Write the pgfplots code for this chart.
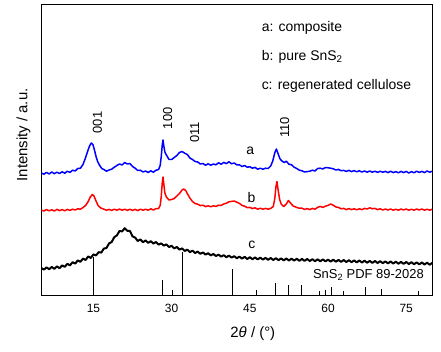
\documentclass[border=0pt]{standalone}
\usepackage{pgfplots}
\pgfplotsset{compat=1.18}
\usepackage{fontspec}
\setmainfont{Liberation Sans}
\begin{document}
\begin{tikzpicture}
\begin{axis}[name=ax,
  scale only axis, width=391bp, height=290.5bp,
  xmin=5, xmax=80, ymin=0, ymax=290.5,
  xtick={15,30,45,60,75}, ytick=\empty,
  major tick length=0pt,
  axis line style={line width=0.8bp},
  clip=true,
  tick label style={font=\fontsize{12}{14}\selectfont},
  xticklabel style={inner sep=0pt, yshift=-9.3bp, anchor=north},
  /pgf/number format/assume math mode=true,
  xlabel={2\textit{θ} / (°)},
  xlabel style={font=\fontsize{15}{17}\selectfont, inner sep=0pt, at={(axis description cs:0.541,0)}, anchor=north, yshift=-31.5bp},
  ylabel={Intensity / a.u.},
  ylabel style={font=\fontsize{15}{17}\selectfont, inner sep=0pt, at={(axis description cs:-0.027,0.551)}, anchor=south},
  every axis plot/.append style={line join=round},
]
% a: composite
\addplot[blue, line width=1.5pt] table {
5 122.0
5.5 120.8
6 122.6
6.5 121.0
7 123.0
7.5 121.3
8 122.8
8.5 121.5
9 123.2
9.5 121.8
10 123.8
10.5 122.6
11 124.8
11.5 124.0
12 126.5
12.5 126.8
13 130.5
13.5 137.5
14 145.5
14.3 149.5
14.6 152.0
14.9 150.5
15.2 145.0
15.5 138.5
15.8 133.5
16.2 129.5
16.6 126.5
17 125.5
17.5 123.8
18 125.0
18.5 125.8
19 127.8
19.5 129.5
20 131.0
20.5 130.0
21 132.5
21.5 131.0
22 131.5
22.5 128.5
23 126.8
23.5 124.5
24 124.8
24.5 123.0
25 124.0
25.5 122.5
26 124.2
26.5 122.8
27 124.8
27.5 125.5
27.8 129.5
28.0 138
28.2 150
28.35 155
28.5 149
28.7 143
29 140
29.5 135.5
30 135.5
30.5 137.5
31 139.5
31.5 142.5
32 143.5
32.5 141.8
33 140.5
33.5 137.0
34 135.5
34.5 133.5
35 133.0
35.5 131.0
36 131.5
36.5 129.8
37 131.2
37.5 129.8
38 131.0
38.5 130.2
39 132.2
39.5 130.8
40 132.6
40.5 131.4
41 133.2
41.5 131.2
42 132.0
42.5 130.2
43 130.2
43.5 128.5
44 129.5
44.5 127.8
45 128.2
45.5 126.8
46 127.6
46.5 125.8
47 126.8
47.5 125.8
48 126.8
48.5 126.5
49 129.0
49.4 134.0
49.8 142.5
50.1 146.0
50.4 141.5
50.8 136.0
51.2 133.8
51.6 132.5
52 133.8
52.5 130.8
53 130.2
53.5 127.8
54 126.5
54.5 124.8
55 124.2
55.5 123.0
56 123.4
56.5 123.8
57 124.8
57.5 124.0
58 126.5
58.5 126.8
59 126.0
59.5 127.5
60 127.2
60.5 126.8
61 126.2
61.5 125.0
62 125.6
62.5 124.3
63 124.6
63.5 123.6
64 124.6
64.5 123.4
65 124.4
65.5 123.2
66 124.2
66.5 123.0
67 124.0
67.5 122.8
68 124.0
68.5 122.8
69 123.8
69.5 122.6
70 123.8
70.5 122.8
71 123.6
71.5 122.4
72 123.8
72.5 122.4
73 123.4
73.5 122.2
74 123.6
74.5 122.4
75 123.6
75.5 122.0
76 123.4
76.5 122.2
77 123.8
77.5 122.6
78 123.6
78.5 122.4
79 124.0
79.5 122.8
80 123.8
};
% b: pure SnS2
\addplot[red, line width=1.5pt] table {
5 85.0
5.5 84.0
6 85.4
6.5 84.2
7 85.2
7.5 84.0
8 85.6
8.5 84.4
9 85.4
9.5 84.2
10 85.6
10.5 84.6
11 85.8
11.5 85.0
12 86.2
12.5 85.8
13 87.5
13.5 89.5
14 93.5
14.4 98.0
14.8 100.5
15.1 99.0
15.5 94.0
15.9 89.5
16.4 87.0
17 85.8
17.5 84.8
18 85.6
18.5 84.6
19 85.8
19.5 84.8
20 86.0
20.5 84.8
21 85.8
21.5 84.6
22 85.8
22.5 84.6
23 85.6
23.5 84.4
24 85.8
24.5 84.8
25 85.8
25.5 84.8
26 86.2
26.5 85.0
27 86.4
27.5 86.5
27.8 89.5
28.0 98
28.2 112
28.35 118
28.5 111
28.7 102
29 98
29.5 95.0
30 95.5
30.5 96.5
31 99.0
31.5 101.5
32 105.0
32.3 106.0
32.7 104.5
33 101.5
33.5 97.0
34 93.5
34.5 91.5
35 90.8
35.5 89.4
36 89.8
36.5 88.4
37 89.2
37.5 88.2
38 89.2
38.5 88.6
39 89.8
39.5 89.6
40 91.0
40.5 91.8
41 93.2
41.5 93.6
42 94.0
42.5 92.8
43 91.6
43.5 89.6
44 88.8
44.5 87.4
45 87.6
45.5 86.4
46 87.2
46.5 85.8
47 86.8
47.5 85.8
48 86.6
48.5 85.8
49 86.6
49.5 88.5
49.8 97
50.0 108
50.2 113.5
50.4 106
50.7 96
51.0 91.0
51.5 88.5
52 91.0
52.4 94.5
52.8 92.0
53.3 89.0
53.8 88.0
54.3 87.0
55 86.8
55.5 85.6
56 86.4
56.5 85.4
57 86.6
57.5 85.8
58 87.6
58.5 88.6
59 87.6
59.5 88.8
60 89.6
60.5 91.0
61 89.8
61.5 88.0
62 87.6
62.5 86.2
63 86.6
63.5 85.4
64 86.4
64.5 85.4
65 86.2
65.5 85.2
66 86.2
66.5 85.4
67 86.6
67.5 86.0
68 87.2
68.5 86.2
69 86.6
69.5 85.4
70 86.2
70.5 85.0
71 86.0
71.5 85.0
72 86.0
72.5 84.8
73 85.8
73.5 84.8
74 86.0
74.5 85.0
75 86.0
75.5 84.8
76 85.8
76.5 84.8
77 86.0
77.5 85.0
78 86.0
78.5 84.8
79 85.8
79.5 84.8
80 85.8
};
% c: regenerated cellulose
\addplot[black, line width=2pt] table {
5 27.0
5.5 25.4
6 27.6
6.5 25.8
7 28.0
7.5 26.2
8 28.6
8.5 26.8
9 29.6
9.5 28.2
10 31.2
10.5 29.6
11 32.8
11.5 31.4
12 34.6
12.5 33.2
13 36.4
13.5 35.0
14 38.6
14.5 37.0
15 40.6
15.5 39.6
16 42.8
16.5 42.4
17 46.4
17.5 47.0
18 51.6
18.5 53.0
19 57.8
19.5 59.6
20 64.0
20.5 63.6
21 66.8
21.5 64.2
22 64.0
22.5 58.6
23 57.4
23.5 54.0
24 55.6
24.5 52.8
25 54.6
25.5 52.2
26 53.8
26.5 51.4
27 53.0
27.5 50.4
28 51.6
28.5 49.4
29 50.6
29.5 48.0
30 49.2
30.5 46.6
31 48.0
31.5 45.4
32 46.6
32.5 44.0
33 45.4
33.5 42.8
34 44.4
34.5 42.0
35 43.4
35.5 41.2
36 42.6
36.5 40.4
37 41.8
37.5 39.6
38 41.0
38.5 39.0
39 40.4
39.5 38.4
40 39.8
40.5 37.8
41 39.4
41.5 37.4
42 38.8
42.5 36.8
43 38.4
43.5 36.4
44 38.2
44.5 36.0
45 37.8
45.5 35.8
46 37.6
46.5 35.6
47 37.4
47.5 35.4
48 37.2
48.5 35.2
49 37.0
49.5 35.0
50 36.8
50.5 34.8
51 36.6
51.5 34.6
52 36.5
52.5 34.5
53 36.4
53.5 34.4
54 36.2
54.5 34.2
55 36.1
55.5 34.1
56 36.0
56.5 34.0
57 35.8
57.5 33.8
58 35.7
58.5 33.7
59 35.6
59.5 33.6
60 35.4
60.5 33.4
61 35.3
61.5 33.3
62 35.1
62.5 33.1
63 35.0
63.5 33.0
64 34.8
64.5 32.8
65 34.6
65.5 32.6
66 34.5
66.5 32.5
67 34.3
67.5 32.3
68 34.1
68.5 32.1
69 34.0
69.5 32.0
70 33.8
70.5 31.8
71 33.6
71.5 31.6
72 33.5
72.5 31.5
73 33.3
73.5 31.3
74 33.1
74.5 31.1
75 33.0
75.5 31.0
76 32.8
76.5 30.8
77 32.6
77.5 30.6
78 32.5
78.5 30.5
79 32.3
79.5 30.3
80 32.1
};
% SnS2 PDF 89-2028 reference lines
\addplot[black, line width=0.6pt, ycomb, mark=none] table {
15.0 38.3
28.3 15.0
30.2 5.0
32.1 43.0
41.7 25.7
46.3 5.0
49.9 11.7
52.4 10.3
54.9 10.3
58.3 4.3
59.4 5.0
60.7 8.3
62.9 4.3
67.1 7.7
70.3 6.0
77.4 4.3
};
% annotations
\node[anchor=west, inner sep=0pt, font=\fontsize{14}{16}\selectfont] at (axis cs:47.25,267.3) {a: composite};
\node[anchor=west, inner sep=0pt, font=\fontsize{14}{16}\selectfont] at (axis cs:47.25,238) {b: pure SnS\textsubscript{2}};
\node[anchor=west, inner sep=0pt, font=\fontsize{14}{16}\selectfont] at (axis cs:47.25,209) {c: regenerated cellulose};
\node[inner sep=0pt, font=\fontsize{14}{16}\selectfont] at (axis cs:45.1,144.3) {a};
\node[inner sep=0pt, font=\fontsize{14}{16}\selectfont] at (axis cs:45.3,97.7) {b};
\node[inner sep=0pt, font=\fontsize{14}{16}\selectfont] at (axis cs:45.4,50) {c};
\node[anchor=east, inner sep=0pt, font=\fontsize{13}{15}\selectfont] at (axis cs:78.4,20) {SnS\textsubscript{2} PDF 89-2028};
\node[rotate=90, inner sep=0pt, font=\fontsize{13}{15}\selectfont] at (axis cs:15.77,172.5) {001};
\node[rotate=90, inner sep=0pt, font=\fontsize{13}{15}\selectfont] at (axis cs:29.23,176.8) {100};
\node[rotate=90, inner sep=0pt, font=\fontsize{13}{15}\selectfont] at (axis cs:34.4,162.5) {011};
\node[rotate=90, inner sep=0pt, font=\fontsize{13}{15}\selectfont] at (axis cs:51.67,167.5) {110};
\end{axis}
\pgfresetboundingbox
\path ([shift={(-41.3bp,-57bp)}]ax.south west) rectangle ([shift={(8.7bp,4.5bp)}]ax.north east);
\end{tikzpicture}
\end{document}
